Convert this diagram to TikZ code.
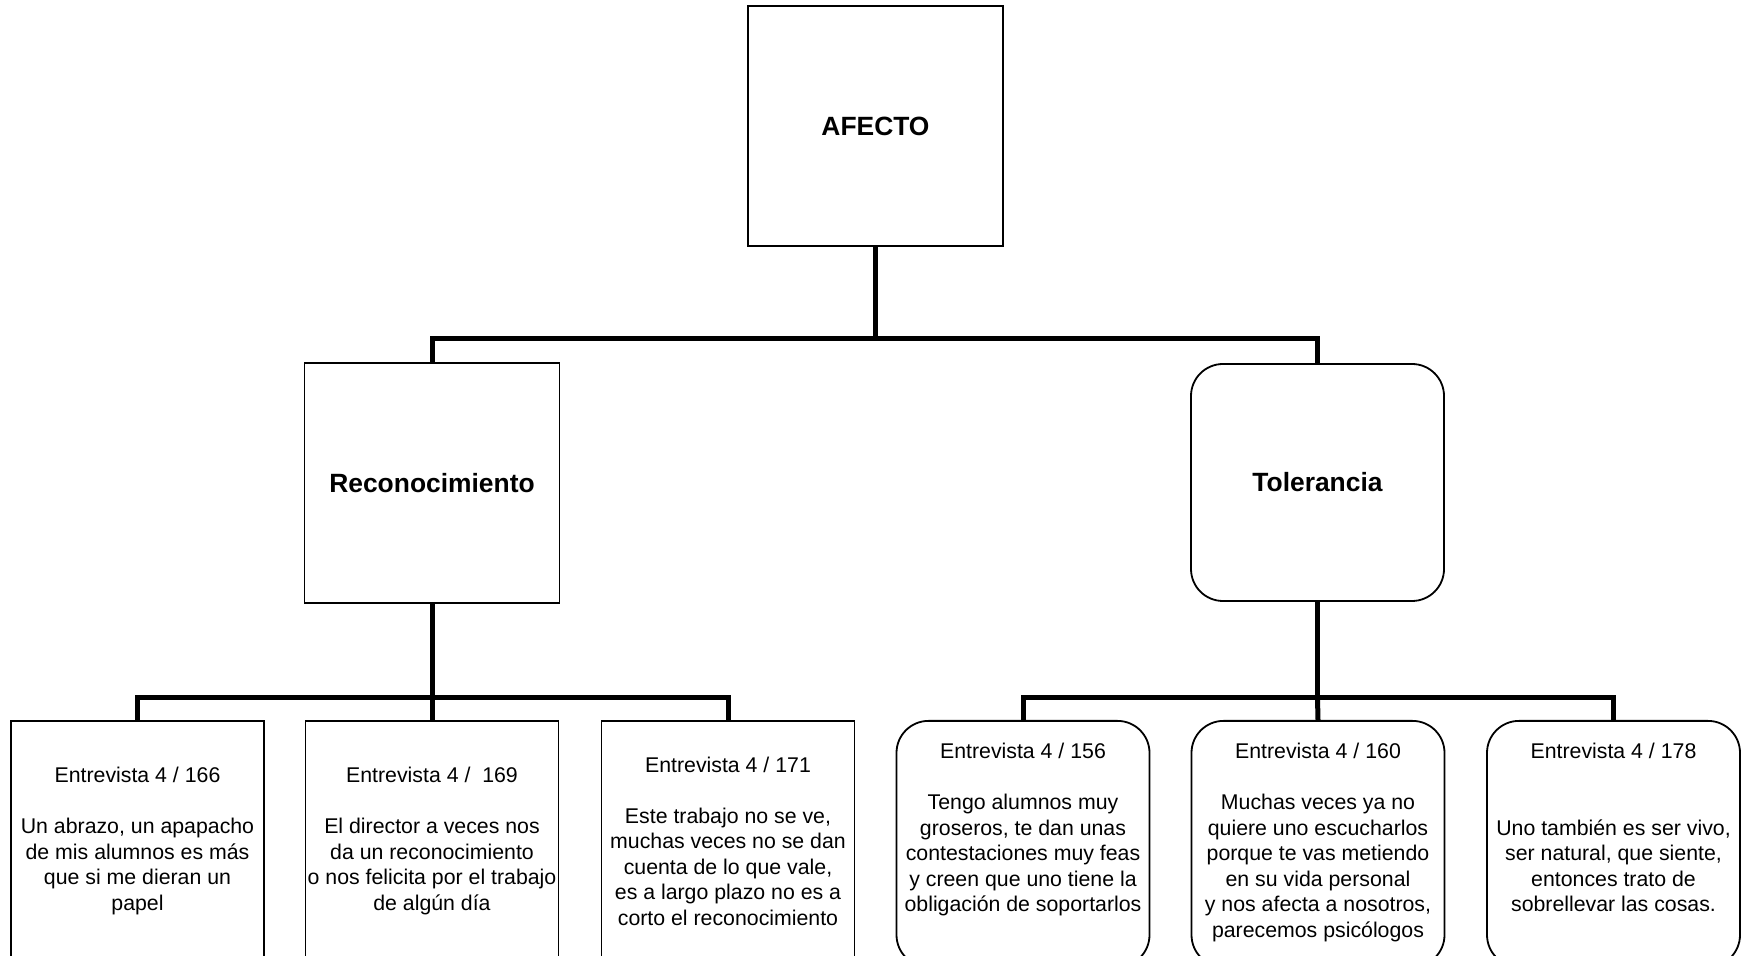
\documentclass[tikz,border=0pt]{standalone}
\usepackage{fontspec}
\setmainfont{Liberation Sans}
\newcommand{\toptext}[1]{\parbox[c][100.4pt][t]{124.5pt}{\centering #1}}
\begin{document}
\begin{tikzpicture}[
    x=0.5pt, y=-0.5pt,
    topic/.style={draw, line width=0.9pt, minimum width=127.5pt, minimum height=120pt, align=center, font=\fontsize{13.2}{16}\selectfont\bfseries},
    rquote/.style={draw, line width=0.9pt, anchor=north, minimum width=126.5pt, minimum height=120pt, inner xsep=1pt, align=center, font=\fontsize{10.65}{12.75}\selectfont},
    tquote/.style={rquote, rounded corners=16pt, minimum height=123pt, inner ysep=11.3pt},
    link/.style={line width=2.5pt}
]
    \useasboundingbox (0,0) rectangle (1741,956);
    \clip (0,0) rectangle (1741,956);

    \node[topic] (afecto) at (875.5,126) {AFECTO};
    \node[topic] (recon) at (432,483) {Reconocimiento};
    \node[topic, rounded corners=16pt, minimum width=126.5pt, minimum height=118.5pt] (toler) at (1317.5,482.5) {Tolerancia};

    \node[rquote] (e166) at (137.5,720) {Entrevista 4 / 166\\[12.75pt]Un abrazo, un apapacho\\de mis alumnos es más\\que si me dieran un\\papel};
    \node[rquote] (e169) at (432,720) {Entrevista 4 / \ 169\\[12.75pt]El director a veces nos\\da un reconocimiento\\o nos felicita por el trabajo\\de algún día};
    \node[rquote] (e171) at (728,720) {Entrevista 4 / 171\\[12.75pt]Este trabajo no se ve,\\muchas veces no se dan\\cuenta de lo que vale,\\es a largo plazo no es a\\corto el reconocimiento};

    \node[tquote] (e156) at (1023,720) {\toptext{Entrevista 4 / 156\\[12.75pt]Tengo alumnos muy\\groseros, te dan unas\\contestaciones muy feas\\y creen que uno tiene la\\obligación de soportarlos}};
    \node[tquote] (e160) at (1318,720) {\toptext{Entrevista 4 / 160\\[12.75pt]Muchas veces ya no\\quiere uno escucharlos\\porque te vas metiendo\\en su vida personal\\y nos afecta a nosotros,\\parecemos psicólogos}};
    \node[tquote] (e178) at (1613.5,720) {\toptext{Entrevista 4 / 178\\[25.5pt]Uno también es ser vivo,\\ser natural, que siente,\\entonces trato de\\sobrellevar las cosas.}};

    % buses
    \coordinate (topbus) at (875.5,339);
    \coordinate (rbus) at (432,698);
    \coordinate (tbus) at (1317.5,698);

    \draw[link] (afecto.south) -- (topbus);
    \draw[link] (topbus) -| (recon.north);
    \draw[link] (topbus) -| (toler.north);

    \draw[link] (recon.south) -- (rbus);
    \draw[link] (rbus) -| (e166.north);
    \draw[link] (rbus) -| (e171.north);
    \draw[link] (rbus) -- (e169.north);

    \draw[link] (toler.south) -- (tbus);
    \draw[link] (tbus) -| (e156.north);
    \draw[link] (tbus) -| (e178.north);
    \draw[link] (tbus) -- (e160.north);
\end{tikzpicture}
\end{document}
